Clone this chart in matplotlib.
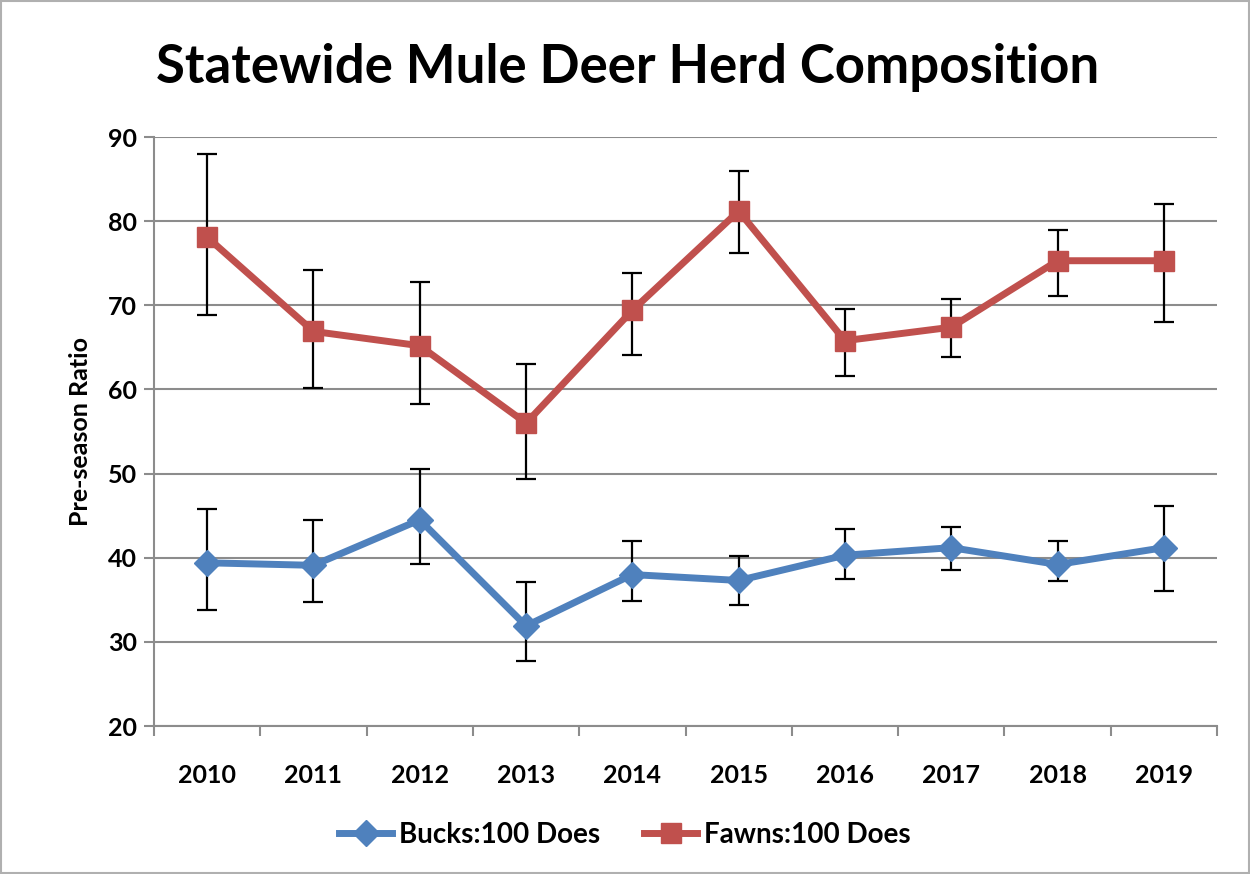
import matplotlib.pyplot as plt
import numpy as np

plt.rcParams['font.family'] = ['Lato', 'DejaVu Sans']

years = ["2010", "2011", "2012", "2013", "2014", "2015", "2016", "2017", "2018", "2019"]

bucks = [39.4, 39.1, 44.5, 31.9, 38.0, 37.3, 40.3, 41.2, 39.2, 41.2]
bucks_hi = [45.8, 44.5, 50.6, 37.1, 42.0, 40.2, 43.4, 43.6, 42.0, 46.2]
bucks_lo = [33.8, 34.7, 39.2, 27.7, 34.9, 34.4, 37.5, 38.6, 37.2, 36.1]

fawns = [78.1, 66.9, 65.2, 56.0, 69.4, 81.2, 65.8, 67.4, 75.3, 75.3]
fawns_hi = [88.0, 74.2, 72.8, 63.0, 73.9, 86.0, 69.6, 70.8, 78.9, 82.0]
fawns_lo = [68.9, 60.2, 58.3, 49.3, 64.1, 76.2, 61.6, 63.8, 71.1, 68.0]

BLUE = "#4f81bd"
RED = "#c0504d"
GRID = "#8c8c8c"

fig = plt.figure(figsize=(12.5, 8.74), dpi=100)
ax = fig.add_axes([0.1232, 0.1693, 0.8504, 0.6739])

x = np.arange(len(years))

def draw(vals, lo, hi, color, marker, ms, label):
    vals = np.array(vals)
    err = [vals - np.array(lo), np.array(hi) - vals]
    ax.errorbar(x, vals, yerr=err, fmt="none", ecolor="black", elinewidth=1.6,
                capsize=7, capthick=1.6, zorder=2)
    ax.plot(x, vals, color=color, lw=5, marker=marker, ms=ms,
            markeredgecolor=color, label=label, zorder=3)

draw(bucks, bucks_lo, bucks_hi, BLUE, "D", 13, "Bucks:100 Does")
draw(fawns, fawns_lo, fawns_hi, RED, "s", 15, "Fawns:100 Does")

ax.set_xlim(-0.5, len(years) - 0.5)
ax.set_ylim(20, 90)
ax.set_yticks(range(20, 91, 10))
ax.set_xticks(x)
ax.set_xticklabels(years)
ax.set_xticks(np.arange(-0.5, len(years), 1), minor=True)
ax.tick_params(axis="x", which="major", length=0, pad=27, labelsize=18)
ax.tick_params(axis="x", which="minor", length=7, width=1.5, color=GRID, direction="out")
ax.tick_params(axis="y", length=7, width=1.5, color=GRID, labelsize=18, pad=5)
for lab in ax.get_xticklabels() + ax.get_yticklabels():
    lab.set_fontweight("bold")

ax.grid(axis="y", color=GRID, lw=1.5)
ax.set_axisbelow(True)
for side in ["top", "right"]:
    ax.spines[side].set_visible(False)
for side in ["left", "bottom"]:
    ax.spines[side].set_color(GRID)
    ax.spines[side].set_linewidth(1.5)

ax.set_ylabel("Pre-season Ratio", fontsize=18, fontweight="bold", labelpad=12)

fig.text(0.502, 0.923, "Statewide Mule Deer Herd Composition", ha="center", va="center",
         fontsize=38, fontweight="bold")

ax.legend(loc="center", bbox_to_anchor=(0.5, 0.045), bbox_transform=fig.transFigure,
          ncol=2, frameon=False, prop={"weight": "bold", "size": 20},
          handlelength=1.9, columnspacing=1.6, handletextpad=0.25)

fig.patches.append(plt.Rectangle((0.001, 0.001), 0.998, 0.998, transform=fig.transFigure,
                                 fill=False, edgecolor="#b0b0b0", lw=1.5))

fig.savefig("out.png", dpi=100)
